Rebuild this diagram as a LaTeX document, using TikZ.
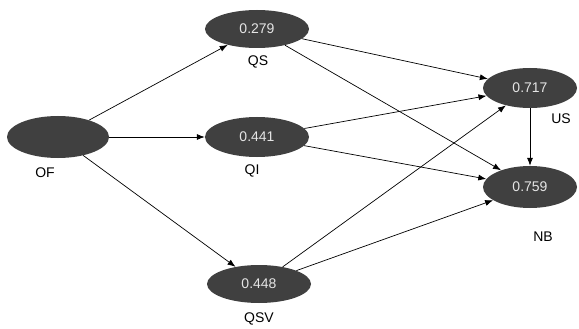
\documentclass[tikz,border=0pt]{standalone}
\usepackage{fontspec}
\setmainfont{Liberation Sans}
\usetikzlibrary{shapes.geometric,arrows.meta}
\begin{document}
\begin{tikzpicture}[x=1pt,y=-1pt,
  lv/.style={ellipse,fill=black!75,draw=none,inner sep=0pt,minimum width=104pt,minimum height=38pt,text=white!90!black,font=\fontsize{14}{16}\selectfont},
  lab/.style={font=\fontsize{14}{16}\selectfont,inner sep=0pt},
  arr/.style={-{Latex[length=8pt,width=6pt]},line width=0.7pt}]
\useasboundingbox (0,0) rectangle (579,329);
\node[lv,minimum width=102pt,minimum height=42pt] (OF) at (58,137) {};
\node[lv] (QS) at (257,29) {0.279};
\node[lv,minimum height=40pt] (QI) at (257,137) {0.441};
\node[lv] (QSV) at (259,284) {0.448};
\node[lv,minimum width=94pt,minimum height=40pt] (US) at (530,88) {0.717};
\node[lv,minimum width=94pt,minimum height=42pt] (NB) at (530,187) {0.759};
\node[lab] (lOF) at (45,173) {OF};
\node[lab] (lQS) at (258,62) {QS};
\node[lab] (lQI) at (252,171) {QI};
\node[lab] (lQSV) at (259,319) {QSV};
\node[lab] (lUS) at (561,119) {US};
\node[lab] (lNB) at (543,237) {NB};
\draw[arr] (OF) -- (QS);
\draw[arr] (OF) -- (QI);
\draw[arr] (OF) -- (QSV);
\draw[arr] (QS) -- (US);
\draw[arr] (QS) -- (NB);
\draw[arr] (QI) -- (US);
\draw[arr] (QI) -- (NB);
\draw[arr] (QSV) -- (US);
\draw[arr] (QSV) -- (NB);
\draw[arr] (US) -- (NB);
\end{tikzpicture}
\end{document}
